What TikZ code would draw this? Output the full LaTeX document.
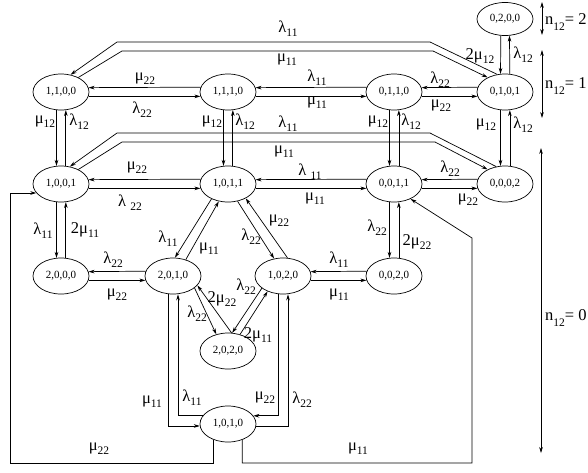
\documentclass[tikz,border=0pt]{standalone}
\usepackage{fontspec}
\setmainfont{Liberation Serif}
\usetikzlibrary{arrows.meta,shapes.geometric,calc}
\newcommand\gk[2]{#1\raisebox{-4pt}{\fontsize{11.5}{11.5}\selectfont #2}}
\newcommand\nlab[1]{n\raisebox{-6pt}{\fontsize{11.5}{11.5}\selectfont 12}= #1}
\begin{document}
\begin{tikzpicture}[x=1pt,y=1pt,
  st/.style={ellipse,draw,line width=0.7pt,minimum width=56pt,minimum height=36pt,inner sep=0pt,font=\fontsize{11}{11}\selectfont},
  ar/.style={line width=0.7pt,-{Stealth[length=6pt,width=3.6pt]}},
  da/.style={line width=0.7pt,{Stealth[length=6pt,width=3.6pt]}-{Stealth[length=6pt,width=3.6pt]}},
  lb/.style={font=\fontsize{16.5}{16.5}\selectfont,inner sep=0pt}]
\useasboundingbox (0,0) rectangle (588,-472);
% states
\node[st,minimum height=33pt] (n0200) at (505,-19) {0,2,0,0};
\node[st] (n1100) at (61,-92) {1,1,0,0};
\node[st] (n1110) at (228,-92) {1,1,1,0};
\node[st] (n0110) at (394,-92) {0,1,1,0};
\node[st] (n0101) at (505,-92) {0,1,0,1};
\node[st] (n1001) at (61,-184) {1,0,0,1};
\node[st] (n1011) at (228,-184) {1,0,1,1};
\node[st] (n0011) at (394,-184) {0,0,1,1};
\node[st] (n0002) at (505,-184) {0,0,0,2};
\node[st] (n2000) at (61,-276) {2,0,0,0};
\node[st] (n2010) at (173,-276) {2,0,1,0};
\node[st] (n1020) at (283,-276) {1,0,2,0};
\node[st] (n0020) at (394,-276) {0,0,2,0};
\node[st] (n2020) at (228,-351) {2,0,2,0};
\node[st] (n1010) at (228,-424) {1,0,1,0};
% horizontal pairs
\foreach \a/\b in {n1100/n1110,n1110/n0110,n0110/n0101,n1001/n1011,n1011/n0011,n0011/n0002,n2000/n2010,n1020/n0020}{
  \draw[ar] (\b.170.58) -- (\a.9.42);
  \draw[ar] (\a.-9.42) -- (\b.189.42);
}
% vertical pairs
\foreach \a/\b in {n0200/n0101,n1100/n1001,n1110/n1011,n0110/n0011,n0101/n0002,n1001/n2000,n0011/n0020}{
  \draw[ar] (\a.-104.2) -- (\b.104.2);
  \draw[ar] (\b.75.8) -- (\a.-75.8);
}
% diagonal pairs
\draw[ar] (n1011.222) -- (n2010.84);
\draw[ar] (n2010.52) -- (n1011.242);
\draw[ar] (n1011.299) -- (n1020.117);
\draw[ar] (n1020.76) -- (n1011.321);
\draw[ar] (n2010.-29) -- (n2020.125);
\draw[ar] (n2020.79) -- (n2010.-21);
\draw[ar] (n1020.210) -- (n2020.77);
\draw[ar] (n2020.54) -- (n1020.225);
% long bands
\coordinate (t1a) at (430,-42); \coordinate (t1b) at (117,-42);
\coordinate (t2a) at (433,-51); \coordinate (t2b) at (122,-51);
\coordinate (s1a) at (430,-133); \coordinate (s1b) at (117,-133);
\coordinate (s2a) at (435,-142); \coordinate (s2b) at (122,-142);
\draw[ar] (n0101.114) -- (t1a) -- (t1b) -- (n1100.61);
\draw[ar] (n1100.40) -- (t2b) -- (t2a) -- (n0101.140);
\draw[ar] (n0002.117) -- (s1a) -- (s1b) -- (n1001.63);
\draw[ar] (n1001.40) -- (s2b) -- (s2a) -- (n0002.140);
% bottom connections
\draw[ar] ([xshift=-5pt]n2010.south) |- (n1010.184);
\draw[ar] (n1010.162) -| ([xshift=5pt]n2010.south);
\draw[ar] ([xshift=-5pt]n1020.south) |- (n1010.18);
\draw[ar] (n1010.-4) -| ([xshift=5pt]n1020.south);
\coordinate (lb1) at (10,-463);
\coordinate (rb1) at (472,-463);
\coordinate (rb2) at (472,-238);
\draw[ar] (n1010.228) |- (lb1) |- (n1001.200);
\draw[ar] (n1010.312) |- (rb1) -- (rb2) -- (n0011.-42);
% level arrows
\coordinate (a1) at (542,-2); \coordinate (a2) at (542,-35);
\coordinate (b1) at (542,-50); \coordinate (b2) at (542,-118);
\coordinate (c1) at (541,-148); \coordinate (c2) at (541,-453);
\draw[da] (a1) -- (a2);
\draw[da] (b1) -- (b2);
\draw[da] (c1) -- (c2);
\node[lb,anchor=west] (l2) at (545,-22) {\nlab{2}};
\node[lb,anchor=west] (l1) at (545,-86) {\nlab{1}};
\node[lb,anchor=west] (l0) at (545,-318) {\nlab{0}};
% rate labels
\node[lb] (r1) at (288,-29) {\gk{λ}{11}};
\node[lb] (r2) at (287,-60) {\gk{μ}{11}};
\node[lb] (r3) at (145,-79) {\gk{μ}{22}};
\node[lb] (r4) at (142,-110) {\gk{λ}{22}};
\node[lb] (r5) at (317,-78) {\gk{λ}{11}};
\node[lb] (r6) at (317,-103) {\gk{μ}{11}};
\node[lb] (r7) at (440,-80) {\gk{λ}{22}};
\node[lb] (r8) at (441,-106) {\gk{μ}{22}};
\node[lb] (r9) at (45,-122) {\gk{μ}{12}};
\node[lb] (r10) at (79,-122) {\gk{λ}{12}};
\node[lb] (r11) at (212,-122) {\gk{μ}{12}};
\node[lb] (r12) at (245,-122) {\gk{λ}{12}};
\node[lb] (r13) at (378,-122) {\gk{μ}{12}};
\node[lb] (r14) at (411,-122) {\gk{λ}{12}};
\node[lb] (r15) at (486,-125) {\gk{μ}{12}};
\node[lb] (r16) at (523,-125) {\gk{λ}{12}};
\node[lb] (r17) at (480,-56) {\gk{2μ}{12}};
\node[lb] (r18) at (523,-55) {\gk{λ}{12}};
\node[lb] (r19) at (288,-124) {\gk{λ}{11}};
\node[lb] (r20) at (284,-152) {\gk{μ}{11}};
\node[lb] (r21) at (137,-168) {\gk{μ}{22}};
\node[lb] (r22) at (130,-203) {\gk{λ\ }{22}};
\node[lb] (r23) at (310,-172) {\gk{λ\ }{11}};
\node[lb] (r24) at (315,-199) {\gk{μ}{11}};
\node[lb] (r25) at (450,-169) {\gk{λ}{22}};
\node[lb] (r26) at (468,-200) {\gk{μ}{22}};
\node[lb] (r27) at (43,-231) {\gk{λ}{11}};
\node[lb] (r28) at (85,-230) {\gk{2μ}{11}};
\node[lb] (r29) at (168,-239) {\gk{λ}{11}};
\node[lb] (r30) at (209,-249) {\gk{μ}{11}};
\node[lb] (r31) at (251,-237) {\gk{λ}{22}};
\node[lb] (r32) at (279,-221) {\gk{μ}{22}};
\node[lb] (r33) at (377,-228) {\gk{λ}{22}};
\node[lb] (r34) at (417,-242) {\gk{2μ}{22}};
\node[lb] (r35) at (113,-260) {\gk{λ}{22}};
\node[lb] (r36) at (117,-295) {\gk{μ}{22}};
\node[lb] (r37) at (339,-260) {\gk{λ}{11}};
\node[lb] (r38) at (339,-295) {\gk{μ}{11}};
\node[lb] (r39) at (197,-314) {\gk{λ}{22}};
\node[lb] (r40) at (222,-299) {\gk{2μ}{22}};
\node[lb] (r41) at (246,-287) {\gk{λ}{22}};
\node[lb] (r42) at (258,-335) {\gk{2μ}{11}};
\node[lb] (r43) at (152,-402) {\gk{μ}{11}};
\node[lb] (r44) at (192,-398) {\gk{λ}{11}};
\node[lb] (r45) at (265,-398) {\gk{μ}{22}};
\node[lb] (r46) at (302,-400) {\gk{λ}{22}};
\node[lb] (r47) at (99,-449) {\gk{μ}{22}};
\node[lb] (r48) at (358,-449) {\gk{μ}{11}};
\end{tikzpicture}
\end{document}
